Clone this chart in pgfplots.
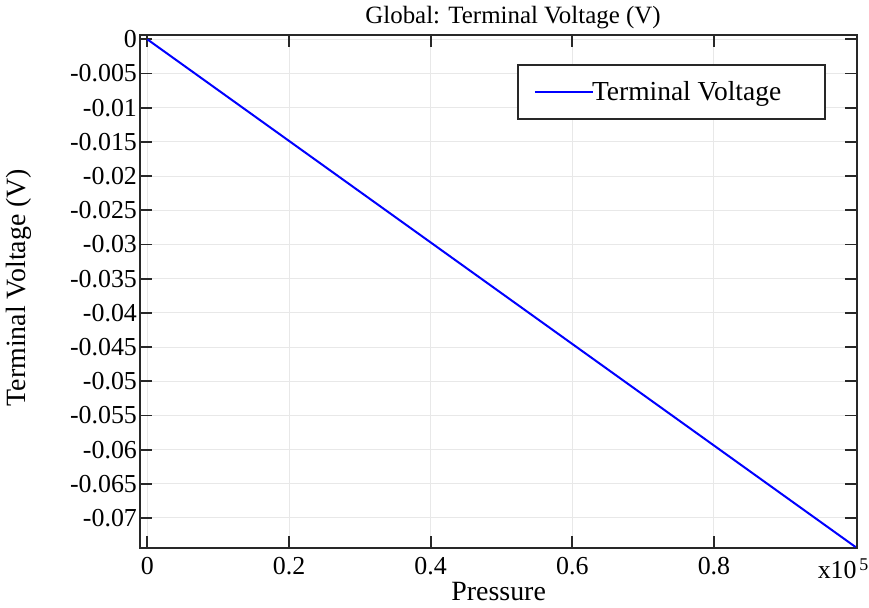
\documentclass[border=0pt]{standalone}
\usepackage{pgfplots}
\pgfplotsset{compat=1.18}
\usetikzlibrary{calc}
\usepackage{fontspec}
\setmainfont{Liberation Serif}
\definecolor{gridgray}{RGB}{232,232,232}
\definecolor{axgray}{RGB}{40,40,40}
\begin{document}
\begin{tikzpicture}
\begin{axis}[
  name=main,
  scale only axis,
  width=358.5bp, height=256.5bp,
  xmin=-1000, xmax=100200,
  ymin=-0.0744, ymax=0.0006,
  scaled x ticks=false, scaled y ticks=false,
  xtick={0,20000,40000,60000,80000},
  xticklabels={0,0.2,0.4,0.6,0.8},
  ytick={0,-0.005,...,-0.0701},
  yticklabel style={/pgf/number format/fixed,/pgf/number format/precision=3,inner xsep=1.5bp},
  /pgf/number format/assume math mode=true,
  tick label style={font=\fontsize{13}{15}\selectfont},
  xticklabel style={inner ysep=1bp, yshift=-3.5bp},
  tick align=inside,
  major tick length=6bp,
  tick style={axgray, line width=0.9bp},
  axis line style={axgray, line width=1.1bp},
  grid=major,
  major grid style={gridgray, line width=0.5bp},
  title={Global: Terminal Voltage (V)},
  title style={font=\fontsize{12.5}{14}\selectfont, at={(rel axis cs:0.52,1)}, anchor=south, yshift=-6.5bp},
  xlabel={Pressure},
  ylabel={Terminal Voltage (V)},
  label style={font=\fontsize{14}{16}\selectfont},
  xlabel style={yshift=1bp},
  ylabel style={yshift=14bp, xshift=2bp},
  legend style={at={(rel axis cs:1,1)}, anchor=north east, xshift=-15.5bp, yshift=-14.5bp,
    draw=axgray, line width=0.9bp, font=\fontsize{13.8}{16}\selectfont,
    inner xsep=8bp, inner ysep=6bp},
  legend image code/.code={\draw[#1, line width=1.1bp] (0bp,0bp) -- (29bp,0bp);},
  legend cell align=left,
]
\addplot[blue, line width=1bp] coordinates {(0,0) (100000,-0.07425)};
\addlegendentry{\hspace*{-3bp}Terminal Voltage\rule{12bp}{0pt}}
\coordinate (xcorner) at (rel axis cs:1,0);
\end{axis}
\node[anchor=north east, inner sep=0pt, font=\fontsize{13}{15}\selectfont] (xten) at ($(xcorner)+(0bp,-6.5bp)$) {x10};
\node[anchor=south west, inner sep=0pt, font=\fontsize{9}{10}\selectfont] at ($(xten.north east)+(1bp,-5bp)$) {5};
\path (main.south west) ++(-70bp,-29bp);
\path (main.north east) ++(6bp,17.5bp);
\end{tikzpicture}
\end{document}
